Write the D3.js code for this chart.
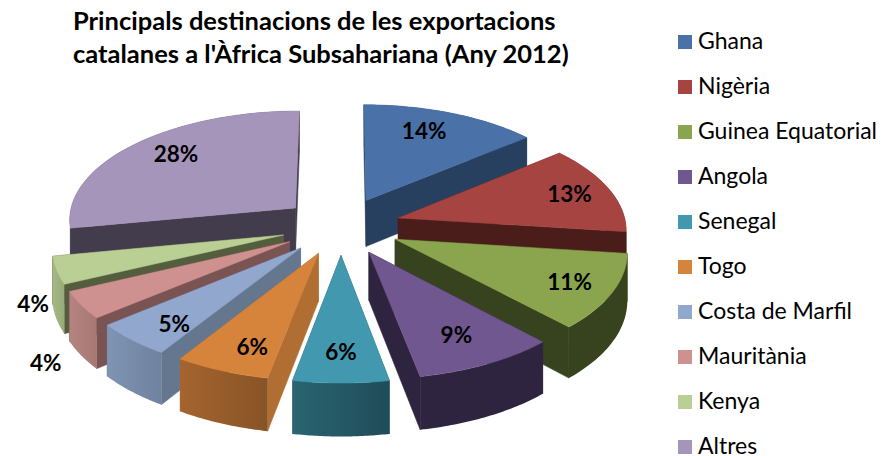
<!DOCTYPE html>
<html>
<head>
<meta charset="utf-8">
<script src="https://cdnjs.cloudflare.com/ajax/libs/d3/7.8.5/d3.min.js"></script>
<style>
    html, body { margin: 0; padding: 0; background: #fff; }
    text { font-family: Lato, "Noto Sans", sans-serif; fill: #000; }
</style>
</head>
<body>
<div id="chart"></div>
<script>
const titleLines = ['Principals destinacions de les exportacions', "catalanes a l'Àfrica Subsahariana (Any 2012)"];
const countries = ['Ghana', 'Nigèria', 'Guinea Equatorial', 'Angola', 'Senegal', 'Togo', 'Costa de Marfil', 'Mauritània', 'Kenya', 'Altres'];
const shares = [14, 13, 11, 9, 6, 6, 5, 4, 4, 28];

const topColors = ['#4a72a8', '#a64442', '#8aa54e', '#70578f', '#4298ae', '#d6833b', '#92a7ce', '#cf9090', '#bacf94', '#a695bb'];
const sideColors = ['#27405f', '#4a1c1a', '#37421e', '#2e2440', '#225866', '#b06e32', '#64778f', '#7a5353', '#545e3f', '#433c4c'];
const rimLeft = ['#27405f', '#4a1c1a', '#37421e', '#2e2440', '#2a6472', '#a5642f', '#7f93b3', '#b58481', '#a6b885', '#433c4c'];
const rimRight = ['#27405f', '#4a1c1a', '#37421e', '#2e2440', '#1f4c58', '#875427', '#6f83a0', '#a87875', '#98aa78', '#433c4c'];

const width = 892, height = 456;
const cx = 341, cy = 226;
const radius = 228, explode = 60, tilt = 0.48, depth = 47, camera = 2400;

const svg = d3.select('#chart').append('svg')
    .attr('width', width)
    .attr('height', height);

const defs = svg.append('defs');

// flat pie coordinates -> screen, z is below the top face
function project(px, py, z) {
    const s = 1 / (1 + py / camera);
    return [cx + px * s, cy - (py * tilt - z) * s];
}

const pie = d3.pie().sort(null).value(d => d);
const arcs = pie(shares).map((a, i) => {
    const mid = (a.startAngle + a.endAngle) / 2;
    return { ...a, i, mid, ox: Math.sin(mid) * explode, oy: Math.cos(mid) * explode };
});

function point(a, angle, r, z) {
    return project(a.ox + Math.sin(angle) * r, a.oy + Math.cos(angle) * r, z);
}

const line = d3.line();

// back slices first so the front ones cover them
const order = arcs.slice().sort((a, b) => b.oy - a.oy);

order.forEach(a => {
    const g = svg.append('g');
    const steps = d3.range(0, 41).map(k => a.startAngle + (a.endAngle - a.startAngle) * k / 40);

    const topRim = steps.map(t => point(a, t, radius, 0));
    const bottomRim = steps.map(t => point(a, t, radius, depth)).reverse();

    [a.startAngle, a.endAngle].forEach(t => {
        g.append('path')
            .attr('d', line([point(a, 0, 0, 0), point(a, t, radius, 0), point(a, t, radius, depth), point(a, 0, 0, depth)]) + 'Z')
            .attr('fill', sideColors[a.i])
            .attr('stroke', sideColors[a.i])
            .attr('stroke-width', 0.5);
    });

    const gradId = 'rim' + a.i;
    const grad = defs.append('linearGradient').attr('id', gradId);
    grad.append('stop').attr('offset', '0%').attr('stop-color', rimLeft[a.i]);
    grad.append('stop').attr('offset', '100%').attr('stop-color', rimRight[a.i]);

    g.append('path')
        .attr('d', line(topRim.concat(bottomRim)) + 'Z')
        .attr('fill', `url(#${gradId})`);

    g.append('path')
        .attr('d', line([point(a, 0, 0, 0)].concat(topRim)) + 'Z')
        .attr('fill', topColors[a.i])
        .attr('stroke', topColors[a.i])
        .attr('stroke-width', 0.5);
});

// where each label sits along its slice, the last two small ones fall outside
const labelFraction = [0.72, 0.81, 0.81, 0.755, 0.775, 0.8, 0.805, 1.16, 1.1, 0.78];
const labelTurn = [-2, 0, 0, 0, 0, -3, -3, 0, 0, 3.5];
const labelDrop = [-5, 0, 0, 0, 0, 0, 0, 44, 29, 0];

function labelPos(d) {
    const t = d.mid + labelTurn[d.i] * Math.PI / 180;
    return point(d, t, radius * labelFraction[d.i], labelDrop[d.i]);
}

svg.append('g').selectAll('text')
    .data(arcs)
    .join('text')
    .attr('x', d => labelPos(d)[0])
    .attr('y', d => labelPos(d)[1])
    .attr('dy', '0.35em')
    .attr('text-anchor', 'middle')
    .style('font-size', '22.5px')
    .style('font-weight', 700)
    .text(d => d.value + '%');

svg.append('g').selectAll('text')
    .data(titleLines)
    .join('text')
    .attr('x', 73)
    .attr('y', (d, i) => 30 + i * 33)
    .style('font-size', '25.5px')
    .style('font-weight', 700)
    .text(d => d);

const legendY = d3.scalePoint().domain(countries).range([42, 447]);

const legend = svg.append('g').selectAll('g')
    .data(countries)
    .join('g')
    .attr('transform', d => `translate(678,${legendY(d)})`);

legend.append('rect')
    .attr('y', -7)
    .attr('width', 14)
    .attr('height', 14)
    .attr('fill', (d, i) => topColors[i]);

legend.append('text')
    .attr('x', 20)
    .attr('dy', '0.32em')
    .style('font-size', '23px')
    .text(d => d);
</script>
</body>
</html>
